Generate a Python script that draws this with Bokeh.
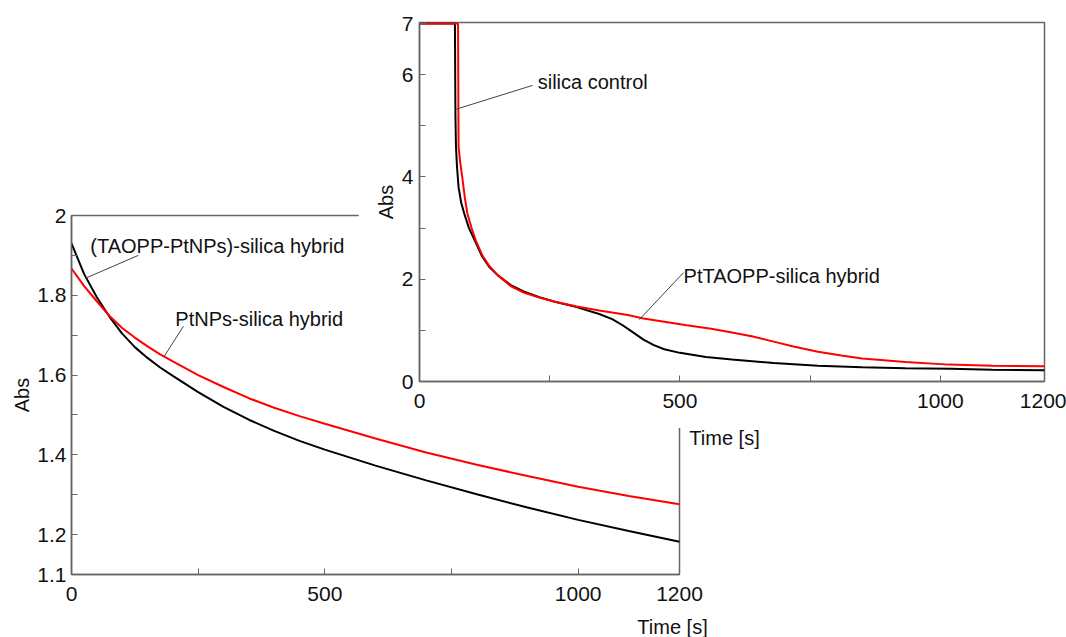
from bokeh.plotting import figure
from bokeh.models import Range1d, FixedTicker, Label, Arrow, CustomJSTickFormatter
from bokeh.core.properties import value
from bokeh.embed import file_html
from bokeh.resources import INLINE

# ---------- back panel (left) ----------
back_time = [0, 25, 50, 75, 100, 125, 150, 175, 200, 250, 300, 350, 400, 450, 500,
             600, 700, 800, 900, 1000, 1100, 1200]
back_black = [1.930, 1.853, 1.795, 1.746, 1.704, 1.670, 1.643, 1.619, 1.598, 1.557,
              1.520, 1.488, 1.460, 1.435, 1.413, 1.373, 1.336, 1.301, 1.268, 1.237,
              1.209, 1.182]
back_red = [1.867, 1.823, 1.785, 1.748, 1.718, 1.694, 1.672, 1.652, 1.634, 1.600,
            1.570, 1.542, 1.518, 1.497, 1.478, 1.441, 1.406, 1.375, 1.347, 1.320,
            1.297, 1.276]
back_xticks = [0, 500, 1000, 1200]
back_xminor = [250, 750]
back_yticks = [1.1, 1.2, 1.4, 1.6, 1.8, 2.0]
back_yminor = [1.3, 1.5, 1.7, 1.9]

# ---------- front panel (right) ----------
front_black_t = [0, 68, 69, 70, 72, 75, 80, 86, 95, 106, 120, 134, 150, 176, 200, 230,
                 260, 300, 345, 370, 390, 410, 430, 450, 470, 500, 550, 600, 680, 765,
                 850, 933, 1020, 1100, 1200]
front_black_v = [7, 7, 5.2, 4.6, 4.2, 3.8, 3.5, 3.28, 3.0, 2.76, 2.45, 2.24, 2.08, 1.88,
                 1.76, 1.65, 1.56, 1.46, 1.32, 1.22, 1.10, 0.96, 0.82, 0.71, 0.63, 0.56,
                 0.48, 0.43, 0.36, 0.31, 0.28, 0.26, 0.25, 0.23, 0.22]
front_red_t = [0, 74, 75, 78, 82, 87, 92, 100, 108, 120, 134, 150, 176, 200, 230, 260,
               300, 345, 400, 430, 470, 513, 560, 600, 640, 680, 720, 765, 810, 850,
               933, 1017, 1100, 1200]
front_red_v = [7, 7, 4.6, 4.3, 4.0, 3.6, 3.28, 3.0, 2.76, 2.48, 2.26, 2.08, 1.86, 1.74,
               1.64, 1.56, 1.47, 1.39, 1.30, 1.23, 1.17, 1.10, 1.03, 0.96, 0.88, 0.78,
               0.68, 0.58, 0.51, 0.45, 0.38, 0.33, 0.31, 0.30]
front_xticks = [0, 500, 1000, 1200]
front_xminor = [250, 750]
front_yticks = [0, 2, 4, 6, 7]
front_yminor = [1, 3, 5]

x_title = "Time [s]"
y_title = "Abs"

FONT = "Liberation Sans"
AX_COLOR = "#666666"
TXT = "#111111"


def style_axes(p):
    for ax in (p.xaxis[0], p.yaxis[0]):
        ax.axis_line_color = AX_COLOR
        ax.axis_line_width = 1.5
        ax.major_tick_line_color = AX_COLOR
        ax.minor_tick_line_color = AX_COLOR
        ax.major_tick_in = 6
        ax.major_tick_out = 0
        ax.minor_tick_in = 6
        ax.minor_tick_out = 0
        ax.major_label_text_font = FONT
        ax.major_label_text_font_size = "21px"
        ax.major_label_text_color = TXT
        ax.axis_label_text_font = FONT
        ax.axis_label_text_font_size = "20px"
        ax.axis_label_text_font_style = "normal"
        ax.axis_label_text_color = TXT
    p.xgrid.visible = False
    p.ygrid.visible = False
    p.outline_line_color = AX_COLOR
    p.outline_line_width = 1.5


def title_strip(text, width, height):
    """Transparent strip that carries an off-centre axis title."""
    s = figure(width=width, height=height, x_range=Range1d(0, 1), y_range=Range1d(0, 1),
               output_backend="svg", toolbar_location=None,
               x_axis_location=None, y_axis_location=None, min_border=0,
               border_fill_color=None, background_fill_color=None, outline_line_color=None)
    s.xgrid.visible = False
    s.ygrid.visible = False
    s.text(x=[0.5], y=[0.5], text=[text], text_align="center", text_baseline="middle",
           text_font=value(FONT), text_font_size="20px", text_color=TXT)
    return s


# back figure
p1 = figure(width=1066, height=637, x_range=Range1d(0, 1200), y_range=Range1d(1.1, 2.0),
            output_backend="svg", toolbar_location=None,
            min_border_left=71, min_border_right=387, min_border_top=215, min_border_bottom=63)
style_axes(p1)
p1.xaxis.ticker = FixedTicker(ticks=back_xticks, minor_ticks=back_xminor)
p1.yaxis.ticker = FixedTicker(ticks=back_yticks, minor_ticks=back_yminor)
p1.yaxis.formatter = CustomJSTickFormatter(code="return String(Math.round(tick*10)/10);")
p1.xaxis.major_label_standoff = 12
p1.yaxis.major_label_standoff = 5
p1.yaxis.axis_label = y_title
p1.yaxis.axis_label_standoff = 1

p1.line(back_time, back_black, line_color="black", line_width=2)
p1.line(back_time, back_red, line_color="#ff0000", line_width=2)

p1.add_layout(Label(x=37, y=1.9225, text="(TAOPP-PtNPs)-silica hybrid",
                    text_font=FONT, text_font_size="20px", text_color=TXT,
                    text_baseline="alphabetic"))
p1.add_layout(Arrow(end=None, x_start=28, y_start=1.843, x_end=132, y_end=1.90,
                    line_color="#444444", line_width=1))
p1.add_layout(Label(x=205, y=1.74, text="PtNPs-silica hybrid",
                    text_font=FONT, text_font_size="20px", text_color=TXT,
                    text_baseline="alphabetic"))
p1.add_layout(Arrow(end=None, x_start=182, y_start=1.645, x_end=221, y_end=1.7225,
                    line_color="#444444", line_width=1))

# front figure
p2 = figure(width=708, height=428, x_range=Range1d(0, 1200), y_range=Range1d(0, 7.02),
            output_backend="svg", toolbar_location=None,
            min_border_left=61, min_border_right=22, min_border_top=22, min_border_bottom=47)
style_axes(p2)
p2.xaxis.ticker = FixedTicker(ticks=front_xticks, minor_ticks=front_xminor)
p2.yaxis.ticker = FixedTicker(ticks=front_yticks, minor_ticks=front_yminor)
p2.xaxis.major_label_standoff = 12
p2.yaxis.major_label_standoff = 6
p2.yaxis.axis_label = y_title
p2.yaxis.axis_label_standoff = 2

p2.line(front_black_t, front_black_v, line_color="black", line_width=2)
p2.line(front_red_t, front_red_v, line_color="#ff0000", line_width=2)

p2.add_layout(Label(x=227, y=5.85, text="silica control",
                    text_font=FONT, text_font_size="20px", text_color=TXT,
                    text_baseline="alphabetic"))
p2.add_layout(Arrow(end=None, x_start=69, y_start=5.32, x_end=217, y_end=5.79,
                    line_color="#444444", line_width=1))
p2.add_layout(Label(x=507, y=2.07, text="PtTAOPP-silica hybrid",
                    text_font=FONT, text_font_size="20px", text_color=TXT,
                    text_baseline="alphabetic"))
p2.add_layout(Arrow(end=None, x_start=422, y_start=1.21, x_end=507, y_end=2.13,
                    line_color="#444444", line_width=1))

# x titles (both sit off-centre in the original)
p3 = title_strip(x_title, 90, 26)   # front panel title, hangs below the white panel
p4 = title_strip(x_title, 90, 22)   # back panel title, near right end of its axis

# overlay the panels (separate roots, positioned by margins in normal flow)
p2.margin = (-637, 0, 0, 358)   # occupies y 0..428
p3.margin = (-4, 0, 0, 679)     # occupies y 424..450
p4.margin = (165, 0, 0, 627)    # occupies y 615..637

open("out.html", "w").write(file_html([p1, p2, p3, p4], INLINE))
